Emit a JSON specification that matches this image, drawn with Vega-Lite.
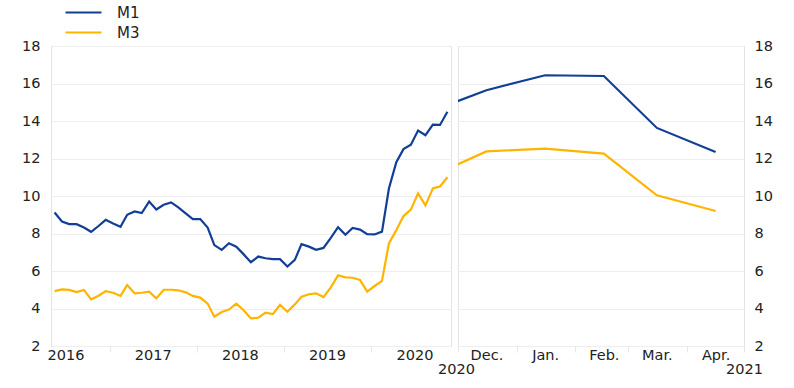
{
  "$schema": "https://vega.github.io/schema/vega-lite/v6.json",
  "padding": {"left": 20, "top": 1, "right": 5, "bottom": 5},
  "bounds": "flush",
  "spacing": 7,
  "background": "white",
  "config": {
    "font": "DejaVu Sans",
    "view": {"stroke": "#e3e3e3", "strokeWidth": 1},
    "axis": {"labelFont": "DejaVu Sans", "labelFontSize": 14.5, "labelColor": "#222222", "domain": false, "titleFont": "DejaVu Sans", "titleFontSize": 14.5, "titleFontWeight": "normal", "titleColor": "#222222"},
    "legend": {"labelFont": "DejaVu Sans", "labelFontSize": 15, "labelColor": "#222222"}
  },
  "datasets": {
    "money": [
      {"date": "2016-05-16", "series": "M1", "value": 9.12},
      {"date": "2016-06-16", "series": "M1", "value": 8.64},
      {"date": "2016-07-16", "series": "M1", "value": 8.5},
      {"date": "2016-08-16", "series": "M1", "value": 8.5},
      {"date": "2016-09-16", "series": "M1", "value": 8.32},
      {"date": "2016-10-16", "series": "M1", "value": 8.09},
      {"date": "2016-11-16", "series": "M1", "value": 8.4},
      {"date": "2016-12-16", "series": "M1", "value": 8.73},
      {"date": "2017-01-16", "series": "M1", "value": 8.53},
      {"date": "2017-02-16", "series": "M1", "value": 8.36},
      {"date": "2017-03-16", "series": "M1", "value": 9.0},
      {"date": "2017-04-16", "series": "M1", "value": 9.18},
      {"date": "2017-05-16", "series": "M1", "value": 9.09},
      {"date": "2017-06-16", "series": "M1", "value": 9.7},
      {"date": "2017-07-16", "series": "M1", "value": 9.28},
      {"date": "2017-08-16", "series": "M1", "value": 9.53},
      {"date": "2017-09-16", "series": "M1", "value": 9.66},
      {"date": "2017-10-16", "series": "M1", "value": 9.39},
      {"date": "2017-11-16", "series": "M1", "value": 9.07},
      {"date": "2017-12-16", "series": "M1", "value": 8.77},
      {"date": "2018-01-16", "series": "M1", "value": 8.77},
      {"date": "2018-02-16", "series": "M1", "value": 8.32},
      {"date": "2018-03-16", "series": "M1", "value": 7.38},
      {"date": "2018-04-16", "series": "M1", "value": 7.13},
      {"date": "2018-05-16", "series": "M1", "value": 7.48},
      {"date": "2018-06-16", "series": "M1", "value": 7.3},
      {"date": "2018-07-16", "series": "M1", "value": 6.9},
      {"date": "2018-08-16", "series": "M1", "value": 6.47},
      {"date": "2018-09-16", "series": "M1", "value": 6.77},
      {"date": "2018-10-16", "series": "M1", "value": 6.68},
      {"date": "2018-11-16", "series": "M1", "value": 6.63},
      {"date": "2018-12-16", "series": "M1", "value": 6.63},
      {"date": "2019-01-16", "series": "M1", "value": 6.24},
      {"date": "2019-02-16", "series": "M1", "value": 6.59},
      {"date": "2019-03-16", "series": "M1", "value": 7.43},
      {"date": "2019-04-16", "series": "M1", "value": 7.3},
      {"date": "2019-05-16", "series": "M1", "value": 7.13},
      {"date": "2019-06-16", "series": "M1", "value": 7.23},
      {"date": "2019-07-16", "series": "M1", "value": 7.75},
      {"date": "2019-08-16", "series": "M1", "value": 8.34},
      {"date": "2019-09-16", "series": "M1", "value": 7.93},
      {"date": "2019-10-16", "series": "M1", "value": 8.3},
      {"date": "2019-11-16", "series": "M1", "value": 8.21},
      {"date": "2019-12-16", "series": "M1", "value": 7.96},
      {"date": "2020-01-16", "series": "M1", "value": 7.95},
      {"date": "2020-02-16", "series": "M1", "value": 8.1},
      {"date": "2020-03-16", "series": "M1", "value": 10.4},
      {"date": "2020-04-16", "series": "M1", "value": 11.8},
      {"date": "2020-05-16", "series": "M1", "value": 12.5},
      {"date": "2020-06-16", "series": "M1", "value": 12.74},
      {"date": "2020-07-16", "series": "M1", "value": 13.49},
      {"date": "2020-08-16", "series": "M1", "value": 13.24},
      {"date": "2020-09-16", "series": "M1", "value": 13.81},
      {"date": "2020-10-16", "series": "M1", "value": 13.79},
      {"date": "2020-11-16", "series": "M1", "value": 14.49},
      {"date": "2020-12-16", "series": "M1", "value": 15.64},
      {"date": "2021-01-16", "series": "M1", "value": 16.44},
      {"date": "2021-02-16", "series": "M1", "value": 16.4},
      {"date": "2021-03-16", "series": "M1", "value": 13.63},
      {"date": "2021-04-16", "series": "M1", "value": 12.35},
      {"date": "2016-05-16", "series": "M3", "value": 4.93},
      {"date": "2016-06-16", "series": "M3", "value": 5.02},
      {"date": "2016-07-16", "series": "M3", "value": 4.99},
      {"date": "2016-08-16", "series": "M3", "value": 4.88},
      {"date": "2016-09-16", "series": "M3", "value": 4.99},
      {"date": "2016-10-16", "series": "M3", "value": 4.49},
      {"date": "2016-11-16", "series": "M3", "value": 4.68},
      {"date": "2016-12-16", "series": "M3", "value": 4.93},
      {"date": "2017-01-16", "series": "M3", "value": 4.84},
      {"date": "2017-02-16", "series": "M3", "value": 4.67},
      {"date": "2017-03-16", "series": "M3", "value": 5.25},
      {"date": "2017-04-16", "series": "M3", "value": 4.81},
      {"date": "2017-05-16", "series": "M3", "value": 4.84},
      {"date": "2017-06-16", "series": "M3", "value": 4.9},
      {"date": "2017-07-16", "series": "M3", "value": 4.54},
      {"date": "2017-08-16", "series": "M3", "value": 5.0},
      {"date": "2017-09-16", "series": "M3", "value": 5.0},
      {"date": "2017-10-16", "series": "M3", "value": 4.97},
      {"date": "2017-11-16", "series": "M3", "value": 4.86},
      {"date": "2017-12-16", "series": "M3", "value": 4.67},
      {"date": "2018-01-16", "series": "M3", "value": 4.58},
      {"date": "2018-02-16", "series": "M3", "value": 4.26},
      {"date": "2018-03-16", "series": "M3", "value": 3.56},
      {"date": "2018-04-16", "series": "M3", "value": 3.81},
      {"date": "2018-05-16", "series": "M3", "value": 3.94},
      {"date": "2018-06-16", "series": "M3", "value": 4.26},
      {"date": "2018-07-16", "series": "M3", "value": 3.92},
      {"date": "2018-08-16", "series": "M3", "value": 3.47},
      {"date": "2018-09-16", "series": "M3", "value": 3.51},
      {"date": "2018-10-16", "series": "M3", "value": 3.78},
      {"date": "2018-11-16", "series": "M3", "value": 3.7},
      {"date": "2018-12-16", "series": "M3", "value": 4.19},
      {"date": "2019-01-16", "series": "M3", "value": 3.83},
      {"date": "2019-02-16", "series": "M3", "value": 4.22},
      {"date": "2019-03-16", "series": "M3", "value": 4.63},
      {"date": "2019-04-16", "series": "M3", "value": 4.76},
      {"date": "2019-05-16", "series": "M3", "value": 4.81},
      {"date": "2019-06-16", "series": "M3", "value": 4.61},
      {"date": "2019-07-16", "series": "M3", "value": 5.11},
      {"date": "2019-08-16", "series": "M3", "value": 5.77},
      {"date": "2019-09-16", "series": "M3", "value": 5.66},
      {"date": "2019-10-16", "series": "M3", "value": 5.64},
      {"date": "2019-11-16", "series": "M3", "value": 5.52},
      {"date": "2019-12-16", "series": "M3", "value": 4.9},
      {"date": "2020-01-16", "series": "M3", "value": 5.2},
      {"date": "2020-02-16", "series": "M3", "value": 5.47},
      {"date": "2020-03-16", "series": "M3", "value": 7.47},
      {"date": "2020-04-16", "series": "M3", "value": 8.18},
      {"date": "2020-05-16", "series": "M3", "value": 8.93},
      {"date": "2020-06-16", "series": "M3", "value": 9.27},
      {"date": "2020-07-16", "series": "M3", "value": 10.14},
      {"date": "2020-08-16", "series": "M3", "value": 9.5},
      {"date": "2020-09-16", "series": "M3", "value": 10.41},
      {"date": "2020-10-16", "series": "M3", "value": 10.51},
      {"date": "2020-11-16", "series": "M3", "value": 11.0},
      {"date": "2020-12-16", "series": "M3", "value": 12.38},
      {"date": "2021-01-16", "series": "M3", "value": 12.53},
      {"date": "2021-02-16", "series": "M3", "value": 12.26},
      {"date": "2021-03-16", "series": "M3", "value": 10.04},
      {"date": "2021-04-16", "series": "M3", "value": 9.2}
    ]
  },
  "hconcat": [
    {
      "width": 400,
      "height": 300,
      "data": {"name": "money"},
      "transform": [{"filter": "time(datum.date) < utc(2020, 11, 1)"}],
      "mark": {"type": "line", "strokeWidth": 2.2, "clip": true},
      "encoding": {
        "x": {
          "field": "date",
          "type": "temporal",
          "scale": {"type": "utc", "domain": [{"year": 2016, "month": 5, "date": 1, "utc": true}, {"year": 2020, "month": 12, "date": 1, "utc": true}]},
          "axis": {
            "values": [
              {"year": 2016, "month": 7, "date": 1, "utc": true},
              {"year": 2017, "month": 1, "date": 1, "utc": true},
              {"year": 2017, "month": 7, "date": 1, "utc": true},
              {"year": 2018, "month": 1, "date": 1, "utc": true},
              {"year": 2018, "month": 7, "date": 1, "utc": true},
              {"year": 2019, "month": 1, "date": 1, "utc": true},
              {"year": 2019, "month": 7, "date": 1, "utc": true},
              {"year": 2020, "month": 1, "date": 1, "utc": true},
              {"year": 2020, "month": 7, "date": 1, "utc": true}
            ],
            "labelExpr": "utcmonth(datum.value) == 6 ? utcFormat(datum.value, '%Y') : ''",
            "tickOpacity": {"condition": {"test": "utcmonth(datum.value) == 0", "value": 1}, "value": 0},
            "tickColor": "#e6e6e6",
            "tickSize": 6,
            "labelPadding": -4,
            "labelAlign": "center",
            "grid": false,
            "title": "2020",
            "titleAnchor": "end",
            "titleAlign": "center",
            "titleBaseline": "top",
            "titleX": 405,
            "titleY": 16
          }
        },
        "y": {
          "field": "value",
          "type": "quantitative",
          "scale": {"domain": [2, 18], "nice": false, "zero": false},
          "axis": {"values": [2, 4, 6, 8, 10, 12, 14, 16, 18], "ticks": false, "labelPadding": 11, "minExtent": 30, "grid": true, "gridColor": "#eeeeee", "title": null}
        },
        "color": {
          "field": "series",
          "type": "nominal",
          "scale": {"domain": ["M1", "M3"], "range": ["#123f96", "#ffb400"]},
          "legend": {
            "orient": "none",
            "legendX": 21,
            "legendY": -45,
            "title": null,
            "direction": "vertical",
            "symbolType": "M-1.8,0H1.8",
            "symbolSize": 400,
            "symbolStrokeWidth": 2.2,
            "labelOffset": 22,
            "rowPadding": 0
          }
        }
      }
    },
    {
      "width": 286,
      "height": 300,
      "data": {"name": "money"},
      "transform": [{"filter": "time(datum.date) >= utc(2020, 10, 1)"}],
      "mark": {"type": "line", "strokeWidth": 2.2, "clip": true},
      "encoding": {
        "x": {
          "field": "date",
          "type": "temporal",
          "scale": {"type": "utc", "domain": [{"year": 2020, "month": 12, "date": 1, "utc": true}, {"year": 2021, "month": 5, "date": 1, "utc": true}]},
          "axis": {
            "values": [
              {"year": 2020, "month": 12, "date": 1, "utc": true},
              {"year": 2020, "month": 12, "date": 16, "utc": true},
              {"year": 2021, "month": 1, "date": 1, "utc": true},
              {"year": 2021, "month": 1, "date": 16, "utc": true},
              {"year": 2021, "month": 2, "date": 1, "utc": true},
              {"year": 2021, "month": 2, "date": 16, "utc": true},
              {"year": 2021, "month": 3, "date": 1, "utc": true},
              {"year": 2021, "month": 3, "date": 16, "utc": true},
              {"year": 2021, "month": 4, "date": 1, "utc": true},
              {"year": 2021, "month": 4, "date": 16, "utc": true},
              {"year": 2021, "month": 5, "date": 1, "utc": true}
            ],
            "labelExpr": "utcdate(datum.value) == 16 ? utcFormat(datum.value, '%b') + '.' : ''",
            "tickOpacity": {"condition": {"test": "utcdate(datum.value) == 1", "value": 1}, "value": 0},
            "tickColor": "#e6e6e6",
            "tickSize": 6,
            "labelPadding": -4,
            "labelAlign": "center",
            "grid": false,
            "title": "2021",
            "titleAnchor": "end",
            "titleAlign": "center",
            "titleBaseline": "top",
            "titleY": 16
          }
        },
        "y": {
          "field": "value",
          "type": "quantitative",
          "scale": {"domain": [2, 18], "nice": false, "zero": false},
          "axis": {"orient": "right", "values": [2, 4, 6, 8, 10, 12, 14, 16, 18], "ticks": false, "labelPadding": 10, "grid": true, "gridColor": "#eeeeee", "title": null}
        },
        "color": {
          "field": "series",
          "type": "nominal",
          "scale": {"domain": ["M1", "M3"], "range": ["#123f96", "#ffb400"]},
          "legend": null
        }
      }
    }
  ]
}
